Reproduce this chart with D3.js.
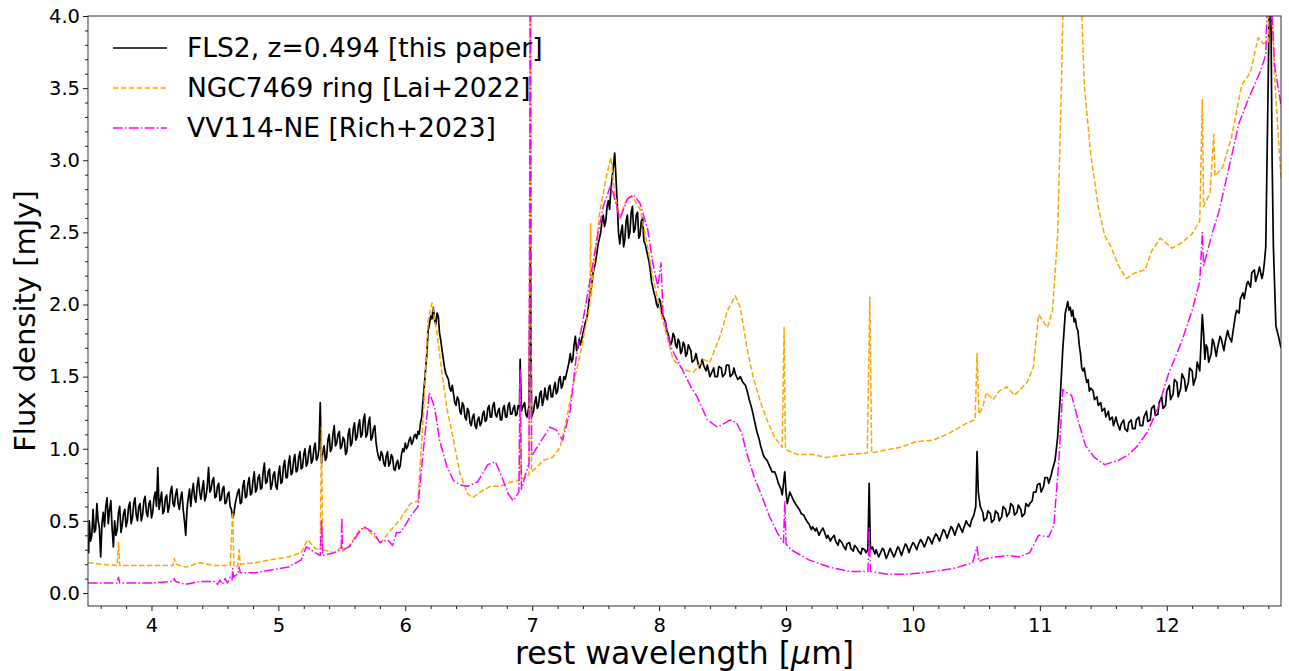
<!DOCTYPE html>
<html>
<head>
<meta charset="utf-8">
<script src="https://cdn.jsdelivr.net/npm/d3@7"></script>
<style>
  html, body { margin: 0; padding: 0; background: #fff; }
  svg { display: block; font-family: "DejaVu Sans", sans-serif; }
</style>
</head>
<body>
<svg id="chart" width="1289" height="671"></svg>
<script>
// ---------------- DATA ----------------
const seriesNames = ["FLS2, z=0.494 [this paper]", "NGC7469 ring [Lai+2022]", "VV114-NE [Rich+2023]"];
const xTickValues = [4, 5, 6, 7, 8, 9, 10, 11, 12];
const yTickValues = [0.0, 0.5, 1.0, 1.5, 2.0, 2.5, 3.0, 3.5, 4.0];
const xLabelText = "rest wavelength [";
const yLabelText = "Flux density [mJy]";

// FLS2 (wavelength µm, flux mJy)
const flsSpectrum = [
[3.50,0.35],[3.505,0.28],[3.51,0.50],[3.52,0.36],[3.53,0.40],[3.54,0.58],[3.55,0.42],[3.56,0.44],[3.57,0.62],[3.58,0.50],[3.59,0.45],[3.60,0.25],[3.61,0.48],[3.62,0.56],[3.63,0.46],
[3.64,0.60],[3.65,0.66],[3.66,0.48],[3.67,0.58],[3.68,0.64],[3.69,0.45],[3.70,0.32],[3.71,0.50],[3.72,0.40],[3.73,0.44],[3.74,0.56],[3.75,0.60],[3.76,0.42],[3.77,0.47],[3.78,0.55],[3.79,0.58],[3.80,0.46],[3.81,0.50],
[3.82,0.60],[3.83,0.63],[3.84,0.48],[3.85,0.52],[3.86,0.62],[3.87,0.66],[3.88,0.54],[3.89,0.50],[3.90,0.60],[3.91,0.62],[3.92,0.50],[3.93,0.54],[3.94,0.64],[3.95,0.67],[3.96,0.56],[3.97,0.53],[3.98,0.62],[3.99,0.64],[4.00,0.52],[4.01,0.56],
[4.02,0.66],[4.03,0.70],[4.04,0.60],[4.05,0.87],[4.06,0.58],[4.07,0.64],[4.08,0.70],[4.09,0.55],[4.10,0.57],[4.11,0.66],[4.12,0.68],[4.13,0.56],[4.14,0.60],[4.15,0.70],[4.16,0.74],[4.17,0.62],[4.18,0.60],[4.19,0.68],[4.20,0.72],
[4.21,0.62],[4.22,0.58],[4.23,0.66],[4.24,0.70],[4.25,0.58],[4.26,0.50],[4.27,0.40],[4.28,0.58],[4.29,0.66],[4.30,0.72],[4.31,0.60],[4.32,0.70],[4.33,0.76],[4.34,0.66],[4.35,0.63],[4.36,0.74],[4.37,0.80],[4.38,0.70],[4.39,0.65],
[4.40,0.72],[4.41,0.78],[4.42,0.64],[4.43,0.67],[4.44,0.74],[4.45,0.87],[4.46,0.70],[4.47,0.72],[4.48,0.78],[4.49,0.80],[4.50,0.66],[4.51,0.67],[4.52,0.74],[4.53,0.76],[4.54,0.64],[4.55,0.65],[4.56,0.72],[4.57,0.74],[4.58,0.62],[4.59,0.63],
[4.60,0.68],[4.61,0.70],[4.62,0.60],[4.63,0.58],[4.64,0.52],[4.65,0.55],[4.66,0.62],[4.67,0.66],[4.68,0.70],[4.69,0.72],[4.70,0.62],[4.71,0.63],[4.72,0.74],[4.73,0.78],[4.74,0.66],[4.75,0.67],[4.76,0.76],[4.77,0.80],[4.78,0.68],[4.79,0.69],
[4.80,0.78],[4.81,0.84],[4.82,0.70],[4.83,0.72],[4.84,0.80],[4.85,0.82],[4.86,0.72],[4.87,0.73],[4.88,0.84],[4.89,0.90],[4.90,0.76],[4.91,0.77],[4.92,0.84],[4.93,0.86],[4.94,0.72],[4.95,0.75],[4.96,0.82],[4.97,0.84],[4.98,0.74],[4.99,0.72],
[5.00,0.82],[5.01,0.88],[5.02,0.76],[5.03,0.77],[5.04,0.88],[5.05,0.92],[5.06,0.80],[5.07,0.80],[5.08,0.90],[5.09,0.95],[5.10,0.82],[5.11,0.83],[5.12,0.92],[5.13,0.96],[5.14,0.84],[5.15,0.85],[5.16,0.94],[5.17,0.98],[5.18,0.86],[5.19,0.87],
[5.20,0.96],[5.21,1.00],[5.22,0.88],[5.23,0.90],[5.24,0.98],[5.25,1.02],[5.26,0.90],[5.27,0.92],[5.28,1.00],[5.29,1.04],[5.30,0.92],[5.31,0.94],[5.32,1.00],[5.33,1.32],[5.34,0.90],[5.35,0.98],[5.36,1.02],[5.37,0.92],[5.38,0.94],[5.39,1.06],
[5.40,1.10],[5.41,0.98],[5.42,1.00],[5.43,1.10],[5.44,1.16],[5.45,1.02],[5.46,1.04],[5.47,1.10],[5.48,1.12],[5.49,1.00],[5.50,1.02],[5.51,1.08],[5.52,1.06],[5.53,0.96],[5.54,0.98],[5.55,1.10],[5.56,1.14],[5.57,1.02],[5.58,1.04],[5.59,1.14],
[5.60,1.18],[5.61,1.06],[5.62,1.08],[5.63,1.16],[5.64,1.20],[5.65,1.08],[5.66,1.10],[5.67,1.20],[5.68,1.24],[5.69,1.08],[5.70,1.10],[5.71,1.18],[5.72,1.22],[5.73,1.06],[5.74,1.08],[5.75,1.14],[5.76,1.16],[5.77,1.04],[5.78,0.98],[5.79,0.94],
[5.80,0.92],[5.81,0.98],[5.82,0.96],[5.83,0.90],[5.84,0.88],[5.85,0.95],[5.86,0.98],[5.87,0.88],[5.88,0.90],[5.89,0.96],[5.90,0.94],[5.91,0.86],[5.92,0.85],[5.93,0.90],[5.94,0.92],[5.95,0.86],[5.96,0.88],[5.97,0.96],[5.98,1.00],[5.99,0.98],
[6.00,1.04],[6.01,1.00],[6.02,1.02],[6.03,1.06],[6.04,1.08],[6.05,1.03],[6.06,1.05],[6.07,1.09],[6.08,1.10],[6.09,1.07],[6.10,1.12],[6.11,1.10],[6.12,1.18],[6.13,1.22],[6.14,1.34],[6.15,1.44],[6.16,1.55],[6.17,1.66],[6.18,1.82],[6.19,1.86],
[6.20,1.92],[6.21,1.90],[6.22,1.98],[6.23,1.90],[6.24,1.86],[6.25,1.94],[6.26,1.92],[6.27,1.80],[6.28,1.75],[6.29,1.68],[6.30,1.62],[6.31,1.56],[6.32,1.52],[6.33,1.50],[6.34,1.48],[6.35,1.42],[6.36,1.40],[6.37,1.44],[6.38,1.38],[6.39,1.32],
[6.40,1.30],[6.41,1.36],[6.42,1.34],[6.43,1.26],[6.44,1.24],[6.45,1.32],[6.46,1.30],[6.47,1.22],[6.48,1.20],[6.49,1.28],[6.50,1.26],[6.51,1.18],[6.52,1.16],[6.53,1.22],[6.54,1.24],[6.55,1.16],[6.56,1.14],[6.57,1.20],[6.58,1.22],[6.59,1.16],
[6.60,1.18],[6.61,1.24],[6.62,1.26],[6.63,1.19],[6.64,1.20],[6.65,1.28],[6.66,1.30],[6.67,1.22],[6.68,1.22],[6.69,1.30],[6.70,1.32],[6.71,1.24],[6.72,1.22],[6.73,1.26],[6.74,1.28],[6.75,1.20],[6.76,1.20],[6.77,1.28],[6.78,1.30],[6.79,1.22],
[6.80,1.22],[6.81,1.30],[6.82,1.32],[6.83,1.24],[6.84,1.24],[6.85,1.28],[6.86,1.30],[6.87,1.23],[6.88,1.24],[6.89,1.30],[6.90,1.28],[6.905,1.62],[6.915,1.26],[6.93,1.30],[6.94,1.32],[6.95,1.24],[6.96,1.22],
[6.975,1.30],[6.985,2.40],[6.995,1.22],[7.01,1.26],[7.02,1.32],[7.03,1.36],[7.04,1.28],[7.05,1.30],[7.06,1.38],[7.07,1.40],[7.08,1.30],[7.09,1.34],[7.10,1.42],[7.11,1.36],[7.12,1.34],[7.13,1.42],[7.14,1.44],[7.15,1.36],
[7.16,1.36],[7.17,1.42],[7.18,1.46],[7.19,1.38],[7.20,1.40],[7.21,1.48],[7.22,1.50],[7.23,1.42],[7.24,1.44],[7.25,1.50],[7.26,1.48],[7.27,1.52],[7.28,1.56],[7.29,1.60],[7.30,1.66],[7.31,1.60],[7.32,1.62],[7.33,1.72],[7.34,1.78],[7.35,1.68],
[7.36,1.70],[7.37,1.76],[7.38,1.72],[7.39,1.76],[7.40,1.80],[7.41,1.84],[7.42,1.88],[7.43,1.90],[7.44,1.96],[7.45,2.04],[7.46,2.10],[7.47,2.14],[7.48,2.22],[7.49,2.26],[7.50,2.30],[7.51,2.36],[7.52,2.42],[7.53,2.46],[7.54,2.50],[7.55,2.58],
[7.56,2.62],[7.57,2.54],[7.58,2.58],[7.59,2.68],[7.60,2.72],[7.61,2.66],[7.62,2.80],[7.63,2.88],[7.64,2.96],[7.65,3.05],[7.66,2.88],[7.67,2.70],[7.68,2.50],[7.69,2.42],[7.70,2.50],[7.71,2.55],[7.72,2.40],[7.73,2.45],[7.74,2.58],[7.75,2.62],
[7.76,2.46],[7.77,2.50],[7.78,2.64],[7.79,2.68],[7.80,2.50],[7.81,2.52],[7.82,2.62],[7.83,2.64],[7.84,2.46],[7.85,2.48],[7.86,2.58],[7.87,2.60],[7.88,2.44],[7.89,2.42],[7.90,2.38],[7.91,2.34],[7.92,2.30],[7.93,2.24],[7.94,2.16],[7.95,2.12],
[7.96,2.08],[7.97,2.05],[7.98,2.00],[7.99,1.98],[8.00,2.04],[8.01,2.02],[8.02,1.94],[8.03,1.92],[8.04,1.90],[8.05,1.88],[8.06,1.82],[8.07,1.80],[8.08,1.76],[8.09,1.72],[8.10,1.74],[8.11,1.80],[8.12,1.78],[8.13,1.72],[8.14,1.70],[8.15,1.76],
[8.16,1.74],[8.17,1.66],[8.18,1.68],[8.19,1.74],[8.20,1.72],[8.21,1.64],[8.22,1.66],[8.23,1.72],[8.25,1.68],[8.26,1.60],[8.28,1.62],[8.29,1.66],[8.31,1.58],[8.32,1.56],[8.34,1.62],[8.35,1.58],[8.37,1.54],[8.38,1.58],[8.40,1.50],
[8.41,1.52],[8.43,1.56],[8.44,1.50],[8.46,1.50],[8.47,1.57],[8.49,1.56],[8.50,1.50],[8.52,1.52],[8.53,1.58],[8.55,1.58],[8.56,1.50],[8.58,1.52],[8.59,1.56],[8.60,1.52],[8.62,1.48],[8.64,1.50],[8.66,1.46],[8.68,1.44],[8.70,1.38],[8.71,1.34],
[8.73,1.28],[8.74,1.24],[8.76,1.16],[8.77,1.12],[8.79,1.06],[8.80,1.02],[8.82,0.96],[8.83,0.94],[8.85,0.92],[8.86,0.90],[8.88,0.86],[8.89,0.84],[8.91,0.84],[8.92,0.82],[8.94,0.76],[8.95,0.74],[8.96,0.72],[8.97,0.68],[8.99,0.84],
[9.00,0.70],[9.01,0.62],[9.02,0.66],[9.03,0.70],[9.05,0.66],[9.06,0.64],[9.08,0.61],[9.09,0.60],[9.11,0.57],[9.12,0.55],[9.14,0.54],[9.15,0.52],[9.17,0.49],[9.18,0.48],[9.20,0.44],[9.21,0.46],[9.23,0.43],[9.24,0.45],[9.26,0.40],[9.27,0.42],
[9.29,0.45],[9.30,0.43],[9.32,0.38],[9.33,0.40],[9.35,0.36],[9.36,0.38],[9.38,0.40],[9.39,0.36],[9.41,0.33],[9.42,0.37],[9.44,0.35],[9.45,0.33],[9.47,0.30],[9.48,0.34],[9.50,0.35],[9.51,0.31],[9.53,0.29],[9.54,0.33],[9.56,0.31],[9.57,0.29],
[9.59,0.27],[9.60,0.31],[9.62,0.30],[9.63,0.28],[9.645,0.30],[9.655,0.76],[9.665,0.30],[9.68,0.32],[9.70,0.27],[9.71,0.30],[9.73,0.25],[9.74,0.27],[9.76,0.31],[9.77,0.30],[9.79,0.24],[9.80,0.26],[9.82,0.31],[9.83,0.29],[9.85,0.25],[9.86,0.27],
[9.88,0.32],[9.89,0.31],[9.91,0.26],[9.92,0.29],[9.94,0.34],[9.95,0.33],[9.97,0.28],[9.98,0.31],[10.00,0.35],[10.01,0.34],[10.03,0.30],[10.04,0.33],[10.06,0.37],[10.07,0.36],[10.09,0.32],[10.10,0.34],[10.12,0.39],[10.13,0.38],[10.15,0.34],[10.16,0.37],
[10.18,0.41],[10.19,0.40],[10.21,0.36],[10.22,0.39],[10.24,0.44],[10.25,0.43],[10.27,0.38],[10.28,0.41],[10.30,0.46],[10.31,0.45],[10.33,0.40],[10.34,0.43],[10.36,0.48],[10.37,0.46],[10.39,0.42],[10.40,0.45],[10.42,0.50],[10.43,0.48],[10.45,0.46],[10.46,0.50],
[10.48,0.54],[10.495,0.60],[10.505,0.98],[10.515,0.70],[10.53,0.60],[10.55,0.56],[10.56,0.50],[10.58,0.52],[10.59,0.57],[10.61,0.55],[10.62,0.49],[10.64,0.51],[10.65,0.57],[10.67,0.55],[10.68,0.50],[10.70,0.53],[10.71,0.60],[10.73,0.58],[10.74,0.53],
[10.76,0.56],[10.77,0.62],[10.79,0.60],[10.80,0.54],[10.82,0.56],[10.83,0.61],[10.85,0.58],[10.86,0.53],[10.88,0.55],[10.89,0.62],[10.91,0.60],[10.92,0.62],[10.94,0.64],[10.95,0.70],[10.97,0.70],[10.98,0.75],[11.00,0.76],[11.01,0.70],[11.03,0.74],
[11.04,0.80],[11.06,0.80],[11.07,0.76],[11.09,0.82],[11.10,0.86],[11.12,0.92],[11.14,1.08],[11.16,1.35],[11.18,1.68],[11.20,1.94],[11.22,2.02],[11.23,1.96],[11.24,1.98],[11.25,1.92],[11.26,1.96],[11.27,1.88],
[11.28,1.90],[11.29,1.84],[11.30,1.82],[11.31,1.72],[11.32,1.66],[11.33,1.56],[11.34,1.54],[11.35,1.56],[11.36,1.50],[11.37,1.46],[11.38,1.48],[11.39,1.40],[11.40,1.42],[11.42,1.40],[11.43,1.34],[11.45,1.36],[11.46,1.30],[11.48,1.32],[11.49,1.26],
[11.51,1.28],[11.52,1.22],[11.54,1.26],[11.55,1.20],[11.57,1.22],[11.58,1.16],[11.60,1.22],[11.61,1.18],[11.63,1.13],[11.64,1.17],[11.66,1.20],[11.67,1.14],[11.69,1.12],[11.70,1.18],[11.72,1.20],[11.73,1.14],[11.75,1.14],[11.76,1.20],[11.78,1.22],
[11.79,1.16],[11.81,1.16],[11.82,1.22],[11.84,1.26],[11.85,1.19],[11.87,1.20],[11.88,1.28],[11.90,1.30],[11.91,1.23],[11.93,1.24],[11.94,1.32],[11.96,1.36],[11.97,1.28],[11.99,1.30],[12.00,1.40],[12.02,1.44],[12.03,1.34],[12.05,1.38],[12.06,1.48],
[12.08,1.46],[12.09,1.36],[12.11,1.42],[12.12,1.52],[12.14,1.48],[12.15,1.40],[12.17,1.46],[12.18,1.56],[12.20,1.54],[12.21,1.44],[12.23,1.50],[12.24,1.60],[12.26,1.54],[12.28,1.93],[12.29,1.80],[12.30,1.62],[12.31,1.72],[12.32,1.70],[12.33,1.60],
[12.35,1.66],[12.36,1.76],[12.37,1.74],[12.39,1.64],[12.40,1.70],[12.42,1.78],[12.43,1.76],[12.45,1.68],[12.46,1.74],[12.48,1.82],[12.49,1.78],[12.51,1.74],[12.52,1.80],[12.54,1.92],[12.55,1.96],[12.57,1.94],[12.58,2.04],[12.60,2.08],[12.61,2.04],
[12.63,2.14],[12.64,2.16],[12.66,2.12],[12.67,2.22],[12.69,2.24],[12.70,2.16],[12.72,2.22],[12.73,2.26],[12.75,2.18],[12.76,2.22],[12.77,2.30],[12.78,2.40],[12.80,3.60],[12.81,4.30],[12.82,4.10],[12.83,3.00],[12.84,2.40],
[12.86,1.85],[12.88,1.78],[12.90,1.70]
];

// NGC7469 ring
const ngcSpectrum = [
[3.50,0.21],[3.60,0.20],[3.73,0.19],[3.74,0.35],[3.75,0.19],[3.90,0.19],[4.00,0.19],[4.17,0.19],[4.18,0.24],[4.19,0.20],
[4.27,0.18],[4.38,0.21],[4.50,0.19],[4.62,0.19],[4.64,0.56],[4.65,0.18],[4.68,0.19],[4.69,0.30],[4.70,0.20],[4.82,0.21],
[4.94,0.23],[5.08,0.25],[5.18,0.28],[5.23,0.37],[5.29,0.31],[5.33,0.30],[5.34,1.15],[5.35,0.30],[5.44,0.28],[5.50,0.32],
[5.51,0.29],[5.56,0.33],[5.64,0.44],[5.69,0.45],[5.77,0.38],[5.81,0.35],[5.87,0.42],[5.96,0.51],[6.04,0.62],[6.10,0.64],
[6.14,1.20],[6.18,1.89],[6.21,2.01],[6.25,1.80],[6.29,1.52],[6.33,1.27],[6.38,1.06],[6.43,0.83],[6.49,0.69],[6.53,0.66],
[6.59,0.70],[6.67,0.74],[6.75,0.74],[6.83,0.77],[6.90,0.78],[6.905,1.46],[6.915,0.79],[6.95,0.80],[6.975,0.82],[6.985,4.60],
[6.995,0.84],[7.01,0.85],[7.09,0.92],[7.16,0.94],[7.22,1.01],[7.27,1.20],[7.32,1.43],[7.38,1.66],[7.43,1.89],[7.455,2.00],
[7.46,2.56],[7.465,2.05],[7.48,2.22],[7.53,2.63],[7.59,2.91],[7.62,3.02],[7.65,2.77],[7.69,2.61],[7.75,2.74],[7.79,2.75],
[7.85,2.66],[7.91,2.40],[7.95,2.19],[8.01,1.96],[8.06,1.78],[8.11,1.62],[8.19,1.55],[8.27,1.53],[8.35,1.62],[8.40,1.60],
[8.48,1.78],[8.54,1.96],[8.60,2.06],[8.64,1.98],[8.69,1.71],[8.74,1.50],[8.80,1.32],[8.85,1.20],[8.91,1.08],[8.97,1.01],
[8.985,1.84],[8.995,1.00],[9.01,0.99],[9.09,0.96],[9.21,0.96],[9.32,0.94],[9.48,0.96],[9.64,0.97],[9.66,2.05],[9.675,0.97],
[9.72,0.98],[9.90,1.01],[10.03,1.05],[10.16,1.06],[10.29,1.11],[10.43,1.18],[10.49,1.20],[10.505,1.66],[10.52,1.24],[10.55,1.29],
[10.58,1.39],[10.63,1.34],[10.68,1.40],[10.74,1.43],[10.80,1.37],[10.90,1.46],[10.95,1.57],[10.99,1.93],[11.06,1.84],[11.10,1.96],
[11.14,2.48],[11.17,3.52],[11.20,4.80],[11.25,5.60],[11.30,4.80],[11.35,3.52],[11.40,3.05],[11.46,2.68],[11.51,2.48],[11.56,2.40],
[11.62,2.27],[11.68,2.18],[11.75,2.22],[11.83,2.24],[11.88,2.37],[11.95,2.46],[12.04,2.39],[12.12,2.43],[12.20,2.49],[12.26,2.58],
[12.28,3.42],[12.29,2.68],[12.34,2.77],[12.37,3.18],[12.38,2.89],[12.44,2.95],[12.51,3.16],[12.59,3.52],[12.66,3.61],[12.72,3.85],
[12.76,3.81],[12.80,3.82],[12.81,4.60],[12.82,4.20],[12.85,3.57],[12.90,2.87]
];

// VV114-NE
const vvSpectrum = [
[3.50,0.07],[3.73,0.07],[3.74,0.11],[3.75,0.07],[4.00,0.07],[4.17,0.08],[4.18,0.10],[4.19,0.08],[4.27,0.06],[4.38,0.08],
[4.50,0.08],[4.52,0.06],[4.54,0.09],[4.56,0.06],[4.58,0.10],[4.60,0.07],[4.62,0.11],[4.635,0.09],[4.64,0.17],[4.645,0.11],
[4.66,0.12],[4.68,0.13],[4.69,0.18],[4.70,0.14],[4.82,0.14],[4.94,0.16],[5.08,0.18],[5.18,0.23],[5.22,0.32],[5.29,0.28],
[5.33,0.26],[5.34,0.50],[5.35,0.26],[5.44,0.28],[5.495,0.30],[5.50,0.52],[5.505,0.30],[5.56,0.32],[5.62,0.40],[5.67,0.46],
[5.75,0.42],[5.80,0.35],[5.86,0.37],[5.90,0.33],[5.93,0.42],[5.96,0.42],[6.00,0.47],[6.04,0.53],[6.10,0.60],[6.14,0.97],
[6.19,1.39],[6.23,1.29],[6.27,1.06],[6.33,0.87],[6.38,0.78],[6.43,0.75],[6.49,0.74],[6.57,0.77],[6.65,0.89],[6.71,0.91],
[6.75,0.83],[6.81,0.69],[6.85,0.64],[6.895,0.70],[6.905,1.55],[6.915,0.72],[6.95,0.83],[6.975,0.90],[6.985,4.60],[6.995,0.95],
[7.01,0.97],[7.06,1.04],[7.14,1.15],[7.19,1.13],[7.24,1.06],[7.30,1.27],[7.35,1.66],[7.40,1.89],[7.46,2.19],[7.51,2.45],
[7.56,2.68],[7.62,2.83],[7.66,2.70],[7.69,2.59],[7.75,2.73],[7.80,2.76],[7.85,2.70],[7.91,2.52],[7.95,2.29],[7.99,2.12],
[8.015,2.29],[8.03,1.94],[8.09,1.71],[8.17,1.57],[8.25,1.43],[8.30,1.36],[8.38,1.20],[8.46,1.15],[8.52,1.18],[8.56,1.20],
[8.61,1.18],[8.65,1.11],[8.69,0.97],[8.75,0.80],[8.81,0.67],[8.87,0.53],[8.93,0.42],[8.98,0.35],[8.99,0.64],[9.00,0.34],
[9.04,0.30],[9.18,0.23],[9.34,0.18],[9.50,0.15],[9.645,0.15],[9.655,0.45],[9.665,0.15],[9.80,0.13],[9.96,0.13],[10.16,0.15],
[10.32,0.17],[10.47,0.21],[10.505,0.32],[10.52,0.22],[10.58,0.24],[10.65,0.25],[10.76,0.26],[10.84,0.25],[10.92,0.28],[10.99,0.40],
[11.07,0.39],[11.11,0.47],[11.15,0.92],[11.18,1.41],[11.21,1.39],[11.25,1.37],[11.31,1.17],[11.36,1.02],[11.43,0.94],[11.51,0.89],
[11.62,0.92],[11.70,0.96],[11.77,1.02],[11.85,1.12],[11.93,1.28],[12.01,1.51],[12.12,1.75],[12.20,1.96],[12.26,2.16],[12.28,2.50],
[12.29,2.27],[12.36,2.50],[12.41,2.64],[12.49,2.95],[12.57,3.26],[12.65,3.44],[12.73,3.60],[12.78,3.73],[12.81,4.60],[12.83,4.00],
[12.85,3.65],[12.91,3.33]
];

// ---------------- CHART ----------------
const svg = d3.select("#chart");
const W = 1289, H = 671;
const plot = { left: 88, right: 1281, top: 16, bottom: 606 };

const x = d3.scaleLinear().domain([3.5, 12.9]).range([plot.left, plot.right]);
const y = d3.scaleLinear().domain([-0.09, 4.0]).range([plot.bottom, plot.top]);

svg.append("rect").attr("width", W).attr("height", H).attr("fill", "#fff");

svg.append("defs").append("clipPath").attr("id", "clip")
  .append("rect")
  .attr("x", plot.left).attr("y", plot.top)
  .attr("width", plot.right - plot.left).attr("height", plot.bottom - plot.top);

const styles = [
  { data: flsSpectrum, color: "#000000", dash: null, width: 1.7, legendWidth: 1.5 },
  { data: ngcSpectrum, color: "#FFA500", dash: "5.5,2.4", width: 1.5, legendWidth: 1.5 },
  { data: vvSpectrum, color: "#FF00FF", dash: "9.6,2.4,1.5,2.4", width: 1.5, legendWidth: 1.5 }
];

const line = d3.line().x(d => x(d[0])).y(d => y(d[1]));
const g = svg.append("g").attr("clip-path", "url(#clip)");
styles.forEach(s => {
  g.append("path")
    .datum(s.data)
    .attr("fill", "none")
    .attr("stroke", s.color)
    .attr("stroke-width", s.width)
    .attr("stroke-linejoin", "round")
    .attr("stroke-dasharray", s.dash)
    .attr("d", line);
});

// Axes
const tickFont = 19.5;
const xAxis = d3.axisBottom(x).tickValues(xTickValues).tickFormat(d3.format("d"))
  .tickSize(5).tickPadding(7);
const gx = svg.append("g").attr("transform", `translate(0,${plot.bottom})`).call(xAxis);
const xMinor = d3.range(3.6, 12.9, 0.2).filter(v => Math.abs(v - Math.round(v)) > 0.01);
const gxm = svg.append("g").attr("transform", `translate(0,${plot.bottom})`)
  .call(d3.axisBottom(x).tickValues(xMinor).tickFormat("").tickSize(3));

const yAxis = d3.axisLeft(y).tickValues(yTickValues).tickFormat(d3.format(".1f"))
  .tickSize(5).tickPadding(3);
const gy = svg.append("g").attr("transform", `translate(${plot.left},0)`).call(yAxis);
const yMinor = d3.range(0.0, 4.0, 0.1).filter(v => Math.abs(v * 2 - Math.round(v * 2)) > 0.01);
const gym = svg.append("g").attr("transform", `translate(${plot.left},0)`)
  .call(d3.axisLeft(y).tickValues(yMinor).tickFormat("").tickSize(3));

[gx, gxm, gy, gym].forEach(a => {
  a.select(".domain").remove();
  a.selectAll("line").attr("stroke", "#000").attr("stroke-width", 0.9);
  a.selectAll("text").attr("font-size", tickFont).attr("font-family", "DejaVu Sans").attr("fill", "#000");
});

// Spines
svg.append("rect")
  .attr("x", plot.left).attr("y", plot.top)
  .attr("width", plot.right - plot.left).attr("height", plot.bottom - plot.top)
  .attr("fill", "none").attr("stroke", "#333").attr("stroke-width", 1);

// Axis labels
const xl = svg.append("text")
  .attr("x", (plot.left + plot.right) / 2).attr("y", 664)
  .attr("text-anchor", "middle").attr("font-size", 31.5).attr("fill", "#000");
xl.append("tspan").text(xLabelText);
xl.append("tspan").attr("font-style", "italic").text("μ");
xl.append("tspan").text("m]");

svg.append("text")
  .attr("transform", `translate(35,${(plot.top + plot.bottom) / 2 + 10}) rotate(-90)`)
  .attr("text-anchor", "middle").attr("font-size", 29).attr("fill", "#000")
  .text(yLabelText);

// Legend
const legend = svg.append("g");
styles.forEach((s, i) => {
  const ly = 48 + i * 40;
  legend.append("line")
    .attr("x1", 113).attr("x2", 167).attr("y1", ly).attr("y2", ly)
    .attr("stroke", s.color).attr("stroke-width", s.legendWidth)
    .attr("stroke-dasharray", s.dash);
  legend.append("text")
    .attr("x", 187).attr("y", ly).attr("dy", "0.35em")
    .attr("font-size", 26.5).attr("fill", "#000")
    .text(seriesNames[i]);
});
</script>
</body>
</html>
